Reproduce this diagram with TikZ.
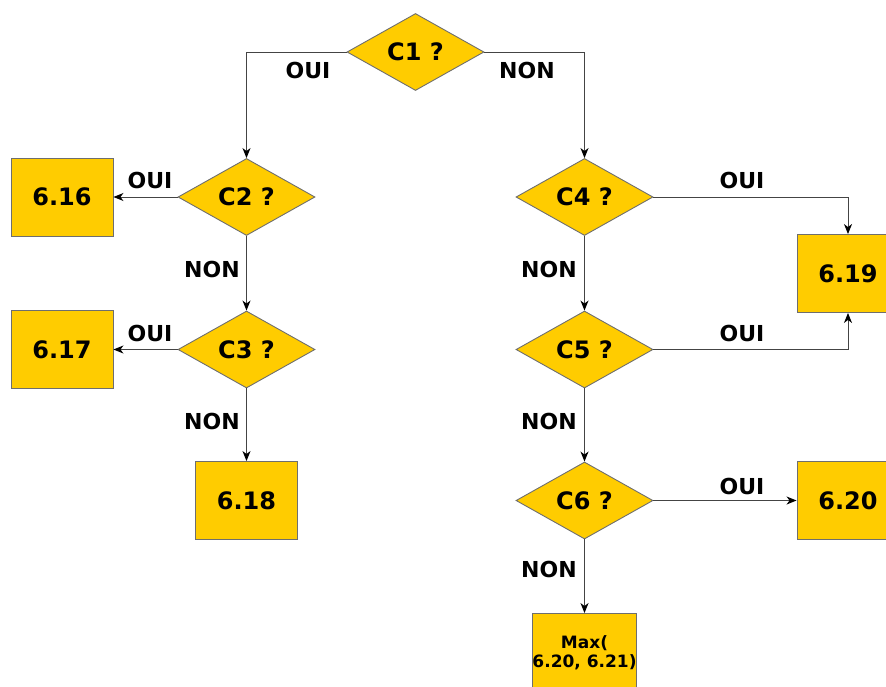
\documentclass[tikz,border=0pt]{standalone}
\usepackage{fontspec}
\setmainfont{DejaVu Sans}
\usetikzlibrary{shapes.geometric,arrows.meta}
\definecolor{fillY}{HTML}{FFCC00}
\definecolor{edgeG}{HTML}{6E6E6E}
\definecolor{lineG}{HTML}{444444}
\tikzset{
  decision/.style={diamond, draw=edgeG, line width=0.9pt, fill=fillY, inner sep=0pt,
    minimum width=137pt, minimum height=77pt, shape aspect=1.78,
    font=\fontsize{24}{27}\selectfont\bfseries},
  result/.style={rectangle, draw=edgeG, line width=0.9pt, fill=fillY, inner sep=0pt,
    minimum width=102pt, minimum height=78pt,
    font=\fontsize{24}{27}\selectfont\bfseries},
  smallresult/.style={result, font=\fontsize{17}{19.5}\selectfont\bfseries, align=center},
  conn/.style={draw=lineG, line width=1pt, -{Stealth[length=10pt,width=8pt,inset=3pt,color=black]}},
  lab/.style={font=\fontsize{22}{25}\selectfont\bfseries, inner sep=0pt}
}
\begin{document}
\begin{tikzpicture}[x=1pt,y=-1pt]
\useasboundingbox (0,0) rectangle (886,686);
\node[decision] (c1) at (415.5,52) {C1 ?};
\node[decision] (c2) at (246.5,197) {C2 ?};
\node[decision] (c3) at (246.5,349.5) {C3 ?};
\node[decision] (c4) at (584.5,197) {C4 ?};
\node[decision] (c5) at (584.5,349.5) {C5 ?};
\node[decision] (c6) at (584.5,500.5) {C6 ?};
\node[result] (r16) at (62,197) {6.16};
\node[result] (r17) at (62,349.5) {6.17};
\node[result] (r18) at (246.5,500.5) {6.18};
\node[result] (r19) at (848,273.5) {6.19};
\node[result] (r20) at (848,500.5) {6.20};
\node[smallresult] (rmax) at (584.5,652.5) {Max(\\6.20, 6.21)};

\draw[conn] (c1.west) -| (c2.north);
\draw[conn] (c1.east) -| (c4.north);
\draw[conn] (c2.west) -- (r16.east);
\draw[conn] (c2.south) -- (c3.north);
\draw[conn] (c3.west) -- (r17.east);
\draw[conn] (c3.south) -- (r18.north);
\draw[conn] (c4.east) -| (r19.north);
\draw[conn] (c5.east) -| (r19.south);
\draw[conn] (c4.south) -- (c5.north);
\draw[conn] (c5.south) -- (c6.north);
\draw[conn] (c6.east) -- (r20.west);
\draw[conn] (c6.south) -- (rmax.north);

\node[lab] (l1) at (308,70) {OUI};
\node[lab] (l2) at (527,70) {NON};
\node[lab] (l3) at (150,180) {OUI};
\node[lab] (l4) at (212,269) {NON};
\node[lab] (l5) at (150,333) {OUI};
\node[lab] (l6) at (212,421) {NON};
\node[lab] (l7) at (742,180) {OUI};
\node[lab] (l8) at (742,333) {OUI};
\node[lab] (l9) at (549,269) {NON};
\node[lab] (l10) at (549,421) {NON};
\node[lab] (l11) at (742,486) {OUI};
\node[lab] (l12) at (549,569) {NON};
\end{tikzpicture}
\end{document}
